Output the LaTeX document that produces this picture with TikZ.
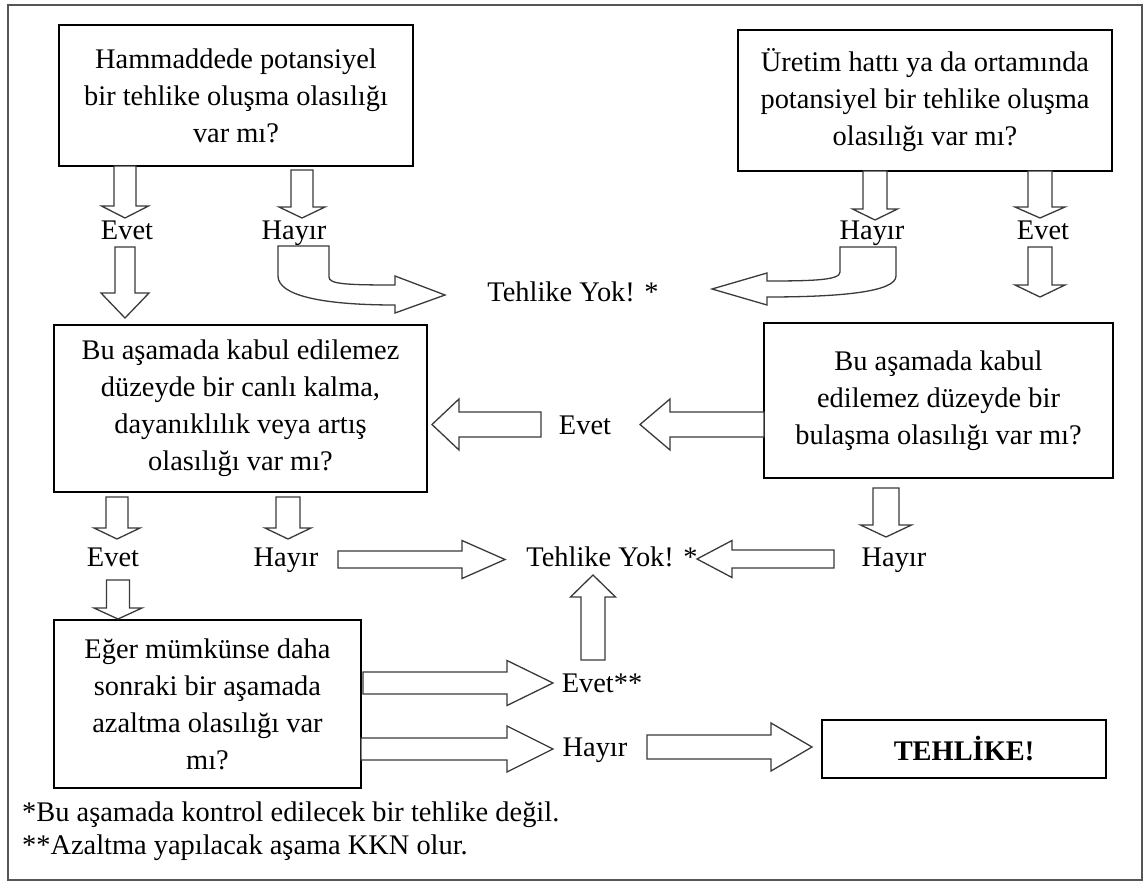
\documentclass[tikz,border=0pt]{standalone}
\usepackage{fontspec}
\setmainfont{Liberation Serif}
\definecolor{arrowline}{HTML}{3A3A3A}
\definecolor{frameline}{HTML}{555555}
% block arrow: #1 axis position, #2 start, #3 head base, #4 tip, #5 shaft half width, #6 head half width
\newcommand\vblockarrow[6]{%
  \draw[blockarrow] ({#1-#5},#2) -- ({#1+#5},#2) -- ({#1+#5},#3) -- ({#1+#6},#3)
    -- (#1,#4) -- ({#1-#6},#3) -- ({#1-#5},#3) -- cycle;}
\newcommand\hblockarrow[6]{%
  \draw[blockarrow] (#2,{#1-#5}) -- (#3,{#1-#5}) -- (#3,{#1-#6})
    -- (#4,#1) -- (#3,{#1+#6}) -- (#3,{#1+#5}) -- (#2,{#1+#5}) -- cycle;}
\tikzset{
  blockarrow/.style={draw=arrowline, fill=white, line width=1.3pt, line join=miter},
  qbox/.style={draw=black, line width=1.3pt, fill=white, inner sep=0pt, align=center,
    font=\fontsize{28.4}{37}\selectfont},
  lbl/.style={inner sep=0pt, text height=19pt, text depth=6pt,
    font=\fontsize{28.4}{34}\selectfont},
  note/.style={inner sep=0pt, anchor=west, text height=19pt, text depth=6pt,
    font=\fontsize{28.4}{34}\selectfont}
}
\begin{document}
\begin{tikzpicture}[x=1pt,y=-1pt]
\useasboundingbox (0,0) rectangle (1146,883);
\fill[white] (0,0) rectangle (1146,883);
\draw[frameline, line width=1.4pt] (8,5) rectangle (1142,880);

% question boxes
\node[qbox, minimum width=354pt, minimum height=141pt] (raw) at (236,95.5)
  {Hammaddede potansiyel\\bir tehlike oluşma olasılığı\\var mı?};
\node[qbox, minimum width=374pt, minimum height=141pt] (line) at (925,100.5)
  {Üretim hattı ya da ortamında\\potansiyel bir tehlike oluşma\\olasılığı var mı?};
\node[qbox, minimum width=373pt, minimum height=167pt] (survive) at (240.5,408.5)
  {Bu aşamada kabul edilemez\\düzeyde bir canlı kalma,\\dayanıklılık veya artış\\olasılığı var mı?};
\node[qbox, minimum width=349pt, minimum height=155pt] (contam) at (938.5,400.5)
  {Bu aşamada kabul\\edilemez düzeyde bir\\bulaşma olasılığı var mı?};
\node[qbox, minimum width=307pt, minimum height=168pt] (reduce) at (207.5,704)
  {Eğer mümkünse daha\\sonraki bir aşamada\\azaltma olasılığı var\\mı?};
\node[qbox, minimum width=284pt, minimum height=58pt, font=\fontsize{28.4}{34}\selectfont\bfseries] (hazard) at (964,749)
  {TEHLİKE!};

% answer labels
\node[lbl] (rawyes) at (127,233) {Evet};
\node[lbl] (rawno) at (294,233) {Hayır};
\node[lbl] (lineno) at (872,233) {Hayır};
\node[lbl] (lineyes) at (1043,233) {Evet};
\node[lbl] (safe1) at (573,295) {Tehlike Yok! *};
\node[lbl] (contamyes) at (585,428) {Evet};
\node[lbl] (survyes) at (113,560) {Evet};
\node[lbl] (survno) at (286,560) {Hayır};
\node[lbl] (contamno) at (894,560) {Hayır};
\node[lbl] (safe2) at (612,560) {Tehlike Yok! *};
\node[lbl] (redyes) at (602,686) {Evet**};
\node[lbl] (redno) at (595,750) {Hayır};

% footnotes
\node[note] (fn1) at (22,815) {*Bu aşamada kontrol edilecek bir tehlike değil.};
\node[note] (fn2) at (22,848) {**Azaltma yapılacak aşama KKN olur.};

% straight block arrows
\vblockarrow{125}{166}{206}{218}{11}{23.5}
\vblockarrow{125}{247}{293}{318}{10}{24}
\vblockarrow{302}{170}{207}{218}{11}{23}
\vblockarrow{875}{171}{209}{220}{12}{22.5}
\vblockarrow{1040}{171}{207}{218}{12}{25}
\vblockarrow{1040}{247}{285}{297}{12}{25}
\vblockarrow{117}{497}{528}{539}{11}{23}
\vblockarrow{288}{497}{528}{539}{12}{23}
\vblockarrow{886}{488}{525}{537}{13}{25.5}
\vblockarrow{118}{580}{608}{619}{11.5}{24}
\vblockarrow{593}{660}{597}{575}{12}{22.5}
\hblockarrow{424.5}{764}{670}{640}{12.5}{25.5}
\hblockarrow{424.5}{541}{459}{432}{12.5}{25.5}
\hblockarrow{559.5}{338}{462}{505}{8.5}{19}
\hblockarrow{559}{834}{732}{697}{9}{18.5}
\hblockarrow{683}{363}{507}{553}{11}{22.5}
\hblockarrow{749}{361}{507}{553}{11}{23}
\hblockarrow{747}{647}{771}{812}{12}{24}

% bent block arrows into the upper "Tehlike Yok!"
\draw[blockarrow] (278,246) -- (329,246) -- (329,277)
  .. controls (329,284) and (345,285) .. (395,285) -- (395,276) -- (445,295)
  -- (395,313) -- (395,305) .. controls (320,305) and (278,295) .. (278,276) -- cycle;
\draw[blockarrow] (840,247) -- (896,247) -- (896,276)
  .. controls (896,292) and (840,297) .. (767,297) -- (767,305) -- (712,289)
  -- (767,273) -- (767,281) .. controls (815,281) and (840,280) .. (840,272) -- cycle;
\end{tikzpicture}
\end{document}
